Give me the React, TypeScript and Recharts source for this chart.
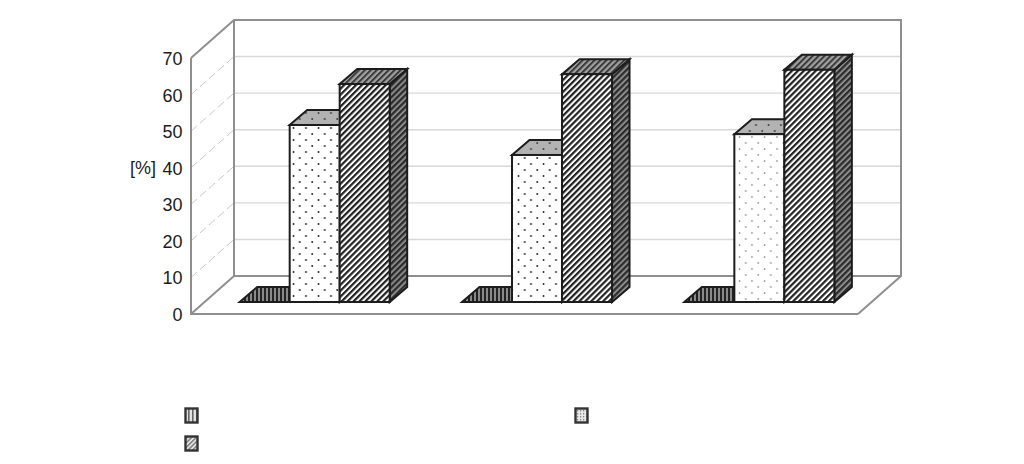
import React from "react";
import { BarChart, Bar, XAxis, YAxis, CartesianGrid, Legend, usePlotArea } from "recharts";

const categories = ["A", "B", "C"];
const seriesA = [0, 0, 0];
const seriesB = [48.4, 40.2, 45.9];
const seriesC = [59.6, 62.3, 63.5];
const yTicks = [0, 10, 20, 30, 40, 50, 60, 70];

const data = categories.map((c, i) => ({ c, a: seriesA[i], b: seriesB[i], c2: seriesC[i] }));

const BACK_DX = 43;
const BACK_DY = -38;
const BAR_SHIFT_X = 12;
const BAR_SHIFT_Y = -12;
const DEPTH_X = 17.5;
const DEPTH_Y = -15;
const WALL = "#8f8f8f";
const INK = "#1c1c1c";
const FONT = "'Liberation Sans', Arial, sans-serif";

function Patterns() {
  return (
    <defs>
      <pattern id="vFront" width="4" height="4" patternUnits="userSpaceOnUse">
        <rect width="4" height="4" fill="#e2e2e2" />
        <rect width="1.6" height="4" fill="#666" />
      </pattern>
      <pattern id="vTop" width="4" height="4" patternUnits="userSpaceOnUse">
        <rect width="4" height="4" fill="#8a8a8a" />
        <rect width="2" height="4" fill="#222" />
      </pattern>
      <pattern id="dots" x="290" y="125" width="12.5" height="12" patternUnits="userSpaceOnUse">
        <rect width="12.5" height="12" fill="#fff" />
        <circle cx="3.5" cy="3" r="0.9" fill="#111" />
        <circle cx="9.75" cy="9" r="0.9" fill="#111" />
      </pattern>
      <pattern id="dotsLight" x="736" y="134" width="12.5" height="12" patternUnits="userSpaceOnUse">
        <rect width="12.5" height="12" fill="#fff" />
        <circle cx="3.5" cy="3" r="0.7" fill="#555" />
        <circle cx="9.75" cy="9" r="0.7" fill="#555" />
      </pattern>
      <pattern id="dotsTop" x="290" y="110" width="12.5" height="12" patternUnits="userSpaceOnUse">
        <rect width="12.5" height="12" fill="#b2b2b2" />
        <circle cx="3.5" cy="3" r="0.9" fill="#333" />
        <circle cx="9.75" cy="9" r="0.9" fill="#333" />
      </pattern>
      <pattern id="dotsSwatch" width="3" height="3" patternUnits="userSpaceOnUse">
        <rect width="3" height="3" fill="#e8e8e8" />
        <rect width="1.2" height="1.5" fill="#888" />
      </pattern>
      <pattern id="diag" width="4.2" height="4.2" patternUnits="userSpaceOnUse" patternTransform="rotate(45)">
        <rect width="4.2" height="4.2" fill="#fff" />
        <rect width="2.2" height="4.2" fill="#222" />
      </pattern>
      <pattern id="diagSwatch" width="3.2" height="3.2" patternUnits="userSpaceOnUse" patternTransform="rotate(45)">
        <rect width="3.2" height="3.2" fill="#e4e4e4" />
        <rect width="1.4" height="3.2" fill="#777" />
      </pattern>
      <pattern id="diagTop" width="4.2" height="4.2" patternUnits="userSpaceOnUse" patternTransform="rotate(45)">
        <rect width="4.2" height="4.2" fill="#a2a2a2" />
        <rect width="2" height="4.2" fill="#3a3a3a" />
      </pattern>
      <pattern id="diagSide" width="4.2" height="4.2" patternUnits="userSpaceOnUse" patternTransform="rotate(45)">
        <rect width="4.2" height="4.2" fill="#8c8c8c" />
        <rect width="2.2" height="4.2" fill="#2a2a2a" />
      </pattern>
    </defs>
  );
}

function Walls() {
  const p = usePlotArea();
  if (!p) return null;
  const l = p.x;
  const r = p.x + p.width;
  const t = p.y;
  const b = p.y + p.height;
  const path = [
    `M${l},${t}L${l + BACK_DX},${t + BACK_DY}L${r + BACK_DX},${t + BACK_DY}L${r + BACK_DX},${b + BACK_DY}L${r},${b}`,
    `M${l + BACK_DX},${t + BACK_DY}L${l + BACK_DX},${b + BACK_DY}L${r + BACK_DX},${b + BACK_DY}`,
    `M${l},${b}L${l + BACK_DX},${b + BACK_DY}`,
    `M${l},${t}L${l},${b}L${r},${b}`,
  ].join("");
  return <path d={path} fill="none" stroke={WALL} strokeWidth={2} />;
}

function gridLine(props: any) {
  const { x1, x2, y1, key } = props;
  return (
    <g key={key}>
      <line x1={x1 + BACK_DX} x2={x2 + BACK_DX} y1={y1 + BACK_DY} y2={y1 + BACK_DY} stroke="#d8d8d8" strokeWidth={1.4} />
      <line x1={x1} x2={x1 + BACK_DX} y1={y1} y2={y1 + BACK_DY} stroke="#c8c8c8" strokeWidth={1} strokeDasharray="8 4" />
    </g>
  );
}

function makeBar(front: (i: number) => string, top: string, side: string) {
  return function Bar3D(props: any) {
    const { x, y, width, height, index } = props;
    const fx = x + BAR_SHIFT_X;
    const fy = y + BAR_SHIFT_Y;
    const w = width;
    const h = height;
    const topPts = `${fx},${fy} ${fx + DEPTH_X},${fy + DEPTH_Y} ${fx + w + DEPTH_X},${fy + DEPTH_Y} ${fx + w},${fy}`;
    const sidePts = `${fx + w},${fy} ${fx + w + DEPTH_X},${fy + DEPTH_Y} ${fx + w + DEPTH_X},${fy + h + DEPTH_Y} ${fx + w},${fy + h}`;
    return (
      <g stroke={INK} strokeWidth={2} strokeLinejoin="miter">
        <polygon points={sidePts} fill={side} />
        <polygon points={topPts} fill={top} />
        <rect x={fx} y={fy} width={w} height={h} fill={front(index)} />
      </g>
    );
  };
}

const shapeA = makeBar(() => "url(#vTop)", "url(#vTop)", "url(#vTop)");
const shapeB = makeBar((i) => (i === 2 ? "url(#dotsLight)" : "url(#dots)"), "url(#dotsTop)", "#8a8a8a");
const shapeC = makeBar(() => "url(#diag)", "url(#diagTop)", "url(#diagSide)");

const swatches = ["url(#vFront)", "url(#dotsSwatch)", "url(#diagSwatch)"];
const swatchPlaces = [
  { left: 184, top: 407 },
  { left: 574, top: 407 },
  { left: 184, top: 435 },
];

function LegendSwatches({ payload }: any) {
  return (
    <div style={{ position: "relative", height: 0 }}>
      {(payload || []).map((e: any, i: number) => (
        <svg key={i} width={15} height={17} style={{ position: "absolute", ...swatchPlaces[i] }}>
          <rect x={1.5} y={1.5} width={12} height={14} fill={swatches[i]} stroke="#333" strokeWidth={2.4} />
        </svg>
      ))}
    </div>
  );
}

function YTick(props: any) {
  const { x, y, payload } = props;
  return (
    <text x={x - 0.5} y={y + 7} textAnchor="end" fontFamily={FONT} fontSize={18} fill={INK}>
      {payload.value}
    </text>
  );
}

export default function App() {
  return (
    <div style={{ position: "absolute", left: 0, top: 0, width: 1024, height: 464, background: "#fff" }}>
      <BarChart
        width={1024}
        height={464}
        data={data}
        margin={{ top: 58, right: 166, bottom: 150, left: 0 }}
        barCategoryGap="16.5%"
        barGap={0}
      >
        <Patterns />
        <Walls />
        <CartesianGrid vertical={false} horizontal={gridLine} />
        <XAxis dataKey="c" tick={false} tickLine={false} height={0} axisLine={false} />
        <YAxis
          width={191}
          domain={[0, 70]}
          ticks={yTicks}
          interval={0}
          tick={<YTick />}
          tickLine={false}
          axisLine={false}
          label={{ value: "[%]", position: "insideLeft", dx: 125, dy: -18, fontFamily: FONT, fontSize: 18, fill: INK }}
        />
        <Legend
          content={<LegendSwatches />}
          wrapperStyle={{ left: 0, top: 0, width: 1024, height: 0 }}
        />
        <Bar dataKey="a" name="Series 1" fill="#555" shape={shapeA} isAnimationActive={false} />
        <Bar dataKey="b" name="Series 2" fill="#eee" shape={shapeB} isAnimationActive={false} />
        <Bar dataKey="c2" name="Series 3" fill="#888" shape={shapeC} isAnimationActive={false} />
      </BarChart>
    </div>
  );
}
